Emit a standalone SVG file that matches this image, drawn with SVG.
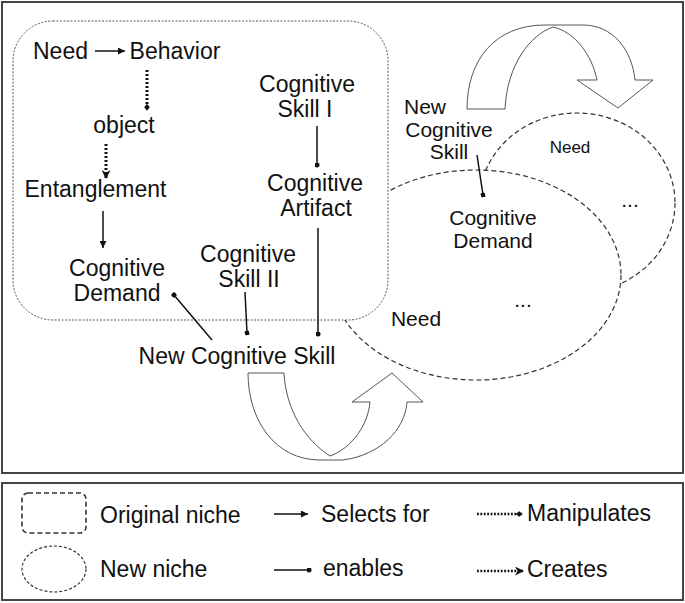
<svg xmlns="http://www.w3.org/2000/svg" width="685" height="603" viewBox="0 0 685 603">
<style>
text{font-family:"Liberation Sans",Arial,sans-serif;fill:#111}
.t23{font-size:23px}
.t21{font-size:21px}
.t17{font-size:17px}
.m{text-anchor:middle}
.frame{fill:#fff;stroke:#444;stroke-width:2}
.niche{fill:#fff;stroke:#555;stroke-width:1;stroke-dasharray:2 1.5}
.newniche{fill:#fff;stroke:#333;stroke-width:1.2;stroke-dasharray:5 3}
.bigarrow{fill:#fff;stroke:#555;stroke-width:1}
.sel{stroke:#111;stroke-width:1.5;fill:none}
.en{stroke:#111;stroke-width:1.5;fill:none}
.dot{stroke:#111;stroke-width:3;fill:none;stroke-dasharray:2 2}
.ldot{stroke:#111;stroke-width:2.5;fill:none;stroke-dasharray:1.8 1.6}
</style>
<defs>
<marker id="arr" viewBox="0 0 10 10" refX="10" refY="5" markerWidth="9" markerHeight="7" markerUnits="userSpaceOnUse" orient="auto"><path d="M0,0 L10,5 L0,10 z" fill="#111"/></marker>
<marker id="dt" viewBox="0 0 10 10" refX="5" refY="5" markerWidth="5" markerHeight="5" markerUnits="userSpaceOnUse" orient="auto"><circle cx="5" cy="5" r="5" fill="#111"/></marker>
<marker id="dia" viewBox="0 0 10 10" refX="9" refY="5" markerWidth="8" markerHeight="7" markerUnits="userSpaceOnUse" orient="auto"><path d="M0,5 L5,1 L10,5 L5,9 z" fill="#111"/></marker>
<marker id="open" viewBox="0 0 10 10" refX="10" refY="5" markerWidth="9" markerHeight="9" markerUnits="userSpaceOnUse" orient="auto"><path d="M0,0 L10,5 L0,10 L3,5 z" fill="#111"/></marker>
</defs>
<rect width="685" height="603" fill="#fff"/>
<rect class="frame" x="2" y="2" width="681" height="471"/>
<rect class="frame" x="2" y="483" width="681" height="117"/>

<g id="new-niche-2"><ellipse class="newniche" cx="577" cy="203" rx="98" ry="90"/></g>
<g id="new-niche-1"><ellipse class="newniche" cx="476" cy="275" rx="145" ry="105"/></g>
<g id="original-niche"><rect class="niche" x="13" y="21" width="375" height="299" rx="40" ry="40"/></g>

<g id="curved-arrows">
<path class="bigarrow" d="M467,109 C467,60 495,25 545,25 L583,25 C613,25 632,50 635,80 L653,80 L618,108 L577,80 L597,80 C592,55 575,32 553,27 C530,35 507,65 505,109 Z"/>
<path class="bigarrow" d="M248,373 C248,420 275,460 320,460 L343,460 C380,455 405,430 407,402 L423,402 L392,373 L352,402 L370,402 C368,425 352,448 330,456 C305,440 286,410 284,373 Z"/>
</g>

<g id="connectors">
<line class="sel" x1="95" y1="51" x2="125" y2="51" marker-end="url(#arr)"/>
<line class="dot" x1="147" y1="70" x2="147" y2="110" marker-end="url(#dia)"/>
<line class="dot" x1="106" y1="144" x2="106" y2="179" marker-end="url(#open)"/>
<line class="sel" x1="103" y1="211" x2="103" y2="248" marker-end="url(#arr)"/>
<line class="en" x1="317" y1="126" x2="317" y2="165" marker-end="url(#dt)"/>
<line class="en" x1="212" y1="340" x2="174" y2="295" marker-end="url(#dt)"/>
<line class="en" x1="245" y1="292" x2="247" y2="333" marker-end="url(#dt)"/>
<line class="en" x1="318" y1="228" x2="318" y2="334" marker-end="url(#dt)"/>
<line class="en" x1="477" y1="155" x2="483" y2="195" marker-end="url(#dt)"/>
</g>

<g id="n-need"><text class="t23" x="33" y="59">Need</text></g>
<g id="n-behavior"><text class="t23 m" x="175" y="59">Behavior</text></g>
<g id="n-object"><text class="t23 m" x="124" y="133">object</text></g>
<g id="n-entanglement"><text class="t23 m" x="95.5" y="197">Entanglement</text></g>
<g id="n-cognitive-demand"><text class="t23 m" x="117" y="276">Cognitive</text><text class="t23 m" x="117" y="301">Demand</text></g>
<g id="n-skill-1"><text class="t23 m" x="307" y="92">Cognitive</text><text class="t23 m" x="305" y="117">Skill I</text></g>
<g id="n-artifact"><text class="t23 m" x="315" y="191">Cognitive</text><text class="t23 m" x="316" y="216">Artifact</text></g>
<g id="n-skill-2"><text class="t23 m" x="248" y="262">Cognitive</text><text class="t23 m" x="249" y="287">Skill II</text></g>
<g id="n-new-skill"><text class="t23 m" x="237" y="364">New Cognitive Skill</text></g>

<g id="n-new-skill-2"><text class="t21" x="404" y="114">New</text><text class="t21 m" x="449" y="137">Cognitive</text><text class="t21 m" x="449" y="159">Skill</text></g>
<g id="n-demand-2"><text class="t21 m" x="493" y="225">Cognitive</text><text class="t21 m" x="493" y="248">Demand</text></g>
<g id="n-need-small"><text class="t17 m" x="570" y="153">Need</text></g>
<g id="n-dots-small"><text class="t21 m" x="630" y="207">...</text></g>
<g id="n-dots-big"><text class="t21 m" x="523" y="307">...</text></g>
<g id="n-need-big"><text class="t21 m" x="416" y="326">Need</text></g>

<g id="legend">
<rect x="22" y="493" width="64" height="40" rx="6" fill="none" stroke="#333" stroke-width="1.6" stroke-dasharray="5 3"/>
<ellipse cx="54" cy="569" rx="32" ry="23" fill="none" stroke="#333" stroke-width="1.2" stroke-dasharray="3 2"/>
<text class="t23" x="100" y="523">Original niche</text>
<text class="t23" x="100" y="577">New niche</text>
<line class="sel" x1="274" y1="514" x2="308" y2="514" marker-end="url(#arr)"/>
<text class="t23" x="321" y="522">Selects for</text>
<line class="en" x1="274" y1="570" x2="309" y2="570" marker-end="url(#dt)"/>
<text class="t23" x="323" y="576">enables</text>
<line class="ldot" x1="477" y1="514" x2="522" y2="514" marker-end="url(#dia)"/>
<text class="t23" x="527" y="521">Manipulates</text>
<line class="ldot" x1="477" y1="571" x2="524" y2="571" marker-end="url(#open)"/>
<text class="t23" x="527" y="577">Creates</text>
</g>
</svg>
